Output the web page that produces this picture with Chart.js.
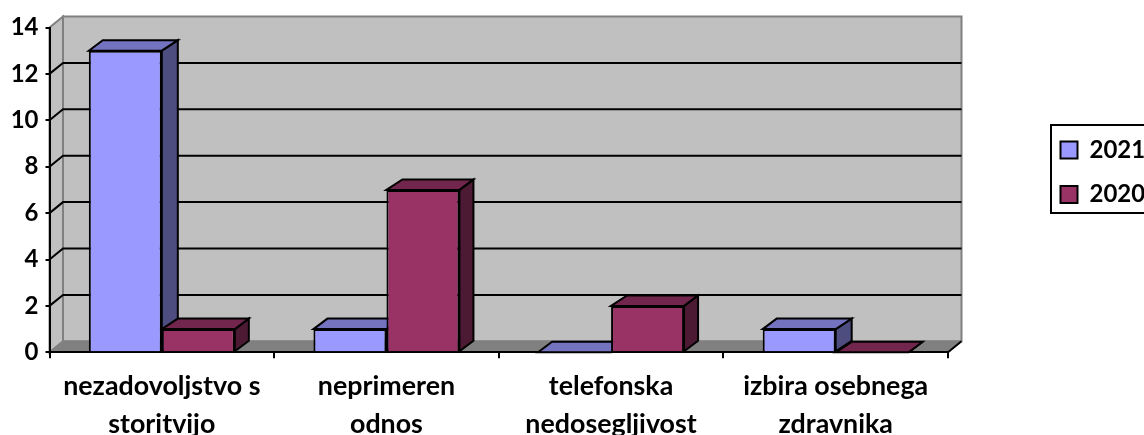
<!DOCTYPE html>
<html>
<head>
<meta charset="utf-8">
<style>html,body{margin:0;padding:0;background:#fff}canvas{display:block}</style>
<script src="https://cdn.jsdelivr.net/npm/chart.js@4"></script>
</head>
<body>
<canvas id="c" width="1144" height="435" style="width:1144px;height:435px"></canvas>
<script>
const categories = [["nezadovoljstvo s","storitvijo"],["neprimeren","odnos"],["telefonska","nedosegljivost"],["izbira osebnega","zdravnika"]];
const series2021 = [13,1,0,1];
const series2020 = [1,7,2,0];
const yTicks = [0,2,4,6,8,10,12,14];
const FONT = 'Lato, "Open Sans", sans-serif';
const shades = [{front:'#9999FF',top:'#7373BF',side:'#4D4D80'},{front:'#993366',top:'#73264D',side:'#4D1A33'}];
const depthX = 13.5, depthY = 11;
const barDX = [[14,16],[16,14]], barDY = 10.5;

function poly(ctx, pts, fill, stroke, lw){
  ctx.beginPath();
  pts.forEach((p,i)=> i?ctx.lineTo(p[0],p[1]):ctx.moveTo(p[0],p[1]));
  ctx.closePath();
  if(fill){ctx.fillStyle=fill;ctx.fill();}
  if(stroke){ctx.strokeStyle=stroke;ctx.lineWidth=lw;ctx.stroke();}
}
const walls = {
  id:'walls',
  beforeDraw(chart){
    const {ctx,chartArea:a,scales:{y}} = chart;
    const t=a.top,b=a.bottom,l=a.left,r=a.right,dx=depthX,dy=depthY;
    ctx.save();
    poly(ctx,[[l+dx,t-dy],[r+dx,t-dy],[r+dx,b-dy],[l+dx,b-dy]],'#C0C0C0','#808080',2);
    poly(ctx,[[l,t],[l+dx,t-dy],[l+dx,b-dy],[l,b]],'#C0C0C0','#808080',2);
    poly(ctx,[[l,b],[l+dx,b-dy],[r+dx,b-dy],[r,b]],'#808080','#808080',1);
    ctx.strokeStyle='#000';ctx.lineWidth=2;
    yTicks.slice(1,-1).forEach(v=>{
      const py=y.getPixelForValue(v);
      ctx.beginPath();ctx.moveTo(l,py);ctx.lineTo(l+dx,py-dy);ctx.lineTo(r+dx,py-dy);ctx.stroke();
    });
    ctx.beginPath();ctx.moveTo(r,b);ctx.lineTo(r+dx,b-dy);ctx.stroke();
    ctx.strokeStyle='#000';ctx.lineWidth=2;
    ctx.strokeRect(1051,125,100,88);
    ctx.restore();
  },
  afterLayout(chart){
    const lg=chart.legend;
    lg.left=1040;lg.right=1144;lg.top=117.5;lg.bottom=320;lg.width=104;lg.height=202.5;
  },
  beforeDatasetsDraw(chart){
    const ctx=chart.ctx;
    ctx.save();
    [0,1].forEach(ds=>{
      const c=shades[ds],[dl,dr]=barDX[ds];
      chart.getDatasetMeta(ds).data.forEach(bar=>{
        const p=bar.getProps(['x','y','base','width'],true);
        const L=p.x-p.width/2,R=p.x+p.width/2;
        poly(ctx,[[R,p.y],[R+dr,p.y-barDY],[R+dr,p.base-barDY],[R,p.base]],c.side,'#000',2);
        poly(ctx,[[L,p.y],[L+dl,p.y-barDY],[R+dr,p.y-barDY],[R,p.y]],c.top,'#000',2);
      });
    });
    ctx.restore();
  }
};
new Chart(document.getElementById('c').getContext('2d'),{
  type:'bar',
  data:{labels:categories,datasets:[
    {label:'2021',data:series2021,backgroundColor:shades[0].front,borderColor:'#000',borderWidth:2},
    {label:'2020',data:series2020,backgroundColor:shades[1].front,borderColor:'#000',borderWidth:2}
  ]},
  options:{
    responsive:false,animation:false,
    categoryPercentage:0.65,barPercentage:1,
    layout:{padding:{top:27.5,right:196,left:0,bottom:0}},
    plugins:{
      title:{display:false},tooltip:{enabled:false},
      legend:{position:'chartArea',align:'start',
        labels:{boxWidth:17,boxHeight:17,padding:20.5,color:'#000',font:{family:FONT,size:24,weight:'bold'}}}
    },
    scales:{
      x:{
        afterFit(s){s.height=82.7;},
        grid:{offset:true,drawOnChartArea:false,drawTicks:true,tickLength:6,color:'#000',lineWidth:2},
        border:{display:true,color:'#000',width:2},
        ticks:{color:'#000',autoSkip:false,maxRotation:0,minRotation:0,padding:9,font:{family:FONT,size:26.8,weight:'bold',lineHeight:1.42}}
      },
      y:{
        min:0,max:14,
        afterFit(s){s.width=49.5;},
        afterBuildTicks(s){s.ticks=yTicks.map(v=>({value:v}));},
        grid:{drawOnChartArea:false,drawTicks:true,tickLength:4,color:'#000',lineWidth:2},
        border:{display:true,color:'#000',width:2},
        ticks:{color:'#000',padding:7,font:{family:FONT,size:24,weight:'bold'}}
      }
    }
  },
  plugins:[walls]
});
</script>
</body>
</html>
